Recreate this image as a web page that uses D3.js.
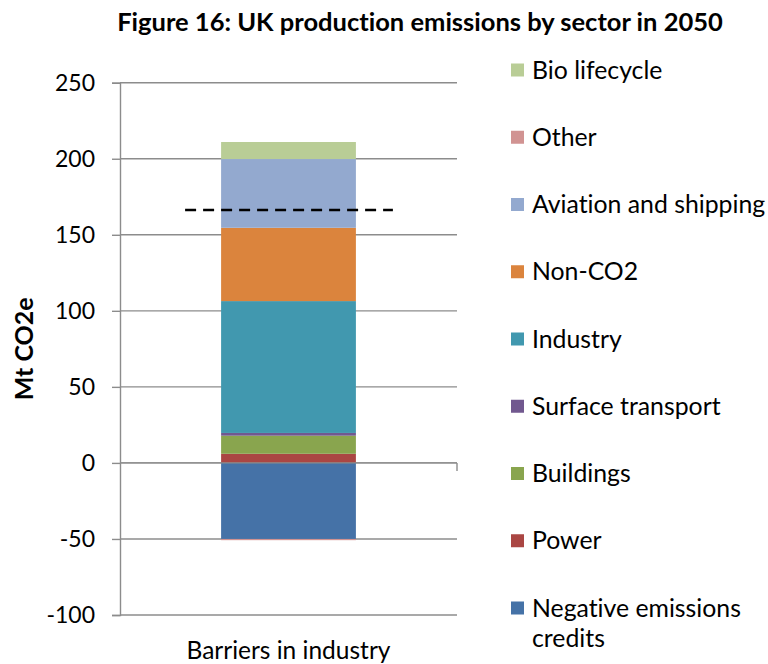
<!DOCTYPE html>
<html>
<head>
<meta charset="utf-8">
<script src="https://cdn.jsdelivr.net/npm/d3@7"></script>
<style>
  html, body { margin: 0; padding: 0; background: #fff; }
  svg { display: block; }
  text { font-family: Lato, "Open Sans", sans-serif; fill: #000; font-variant-ligatures: none; }
</style>
</head>
<body>
<svg id="chart" width="768" height="664"></svg>
<script>
// ---- data ----
const categories = ["Barriers in industry"];
const seriesNames = ["Negative emissions credits", "Power", "Buildings", "Surface transport",
  "Industry", "Non-CO2", "Aviation and shipping", "Other", "Bio lifecycle"];
const seriesValues = [-50, 6, 11.9, 1.8, 86.7, 48.2, 45.2, -0.8, 11.2];
const seriesColors = ["#4572A7", "#AA4643", "#89A54E", "#71588F", "#4198AF", "#DB843D", "#93A9CF", "#D19392", "#B9CD96"];
const yTicks = [-100, -50, 0, 50, 100, 150, 200, 250];
const targetLine = 166.3;
const titleText = "Figure 16: UK production emissions by sector in 2050";
const yLabel = "Mt CO2e";

// ---- layout ----
const svg = d3.select("#chart");
const plot = { left: 120, right: 457, top: 82.7, bottom: 615 };

const y = d3.scaleLinear().domain([-100, 250]).range([plot.bottom, plot.top]);
const x = d3.scaleBand().domain(categories).range([plot.left, plot.right]).paddingInner(0.6).paddingOuter(0.3);

// build table
const row = { category: categories[0] };
seriesNames.forEach((n, i) => row[n] = seriesValues[i]);
const stack = d3.stack().keys(seriesNames).offset(d3.stackOffsetDiverging);
const stacked = stack([row]);

// gridlines
svg.append("g").selectAll("line").data(yTicks).join("line")
  .attr("x1", plot.left).attr("x2", plot.right)
  .attr("y1", d => y(d)).attr("y2", d => y(d))
  .attr("stroke", "#8c8c8c").attr("stroke-width", 1.4);

// bars
svg.append("g").selectAll("g").data(stacked).join("g")
  .attr("fill", (d, i) => seriesColors[i])
  .selectAll("rect").data(d => d).join("rect")
  .attr("x", d => x(d.data.category))
  .attr("width", x.bandwidth())
  .attr("y", d => y(Math.max(d[0], d[1])))
  .attr("height", d => Math.abs(y(d[0]) - y(d[1])));

// y axis
const yAxis = d3.axisLeft(y).tickValues(yTicks).tickSize(8).tickPadding(17).tickFormat(d => String(d));
const gy = svg.append("g").attr("transform", `translate(${plot.left},0)`).call(yAxis);
gy.select(".domain").attr("stroke", "#8c8c8c").attr("stroke-width", 1.4);
gy.selectAll(".tick line").attr("stroke", "#8c8c8c").attr("stroke-width", 1.4);
gy.selectAll(".tick text").style("font-family", "Lato, sans-serif").style("font-size", "23px").attr("fill", "#000");

// x axis (category) at zero
const xAxis = d3.axisBottom(x).tickSize(0).tickFormat("");
const gx = svg.append("g").attr("transform", `translate(0,${y(0)})`).call(xAxis);
gx.select(".domain").attr("stroke", "#8c8c8c").attr("stroke-width", 1.4).attr("d", `M${plot.left},0H${plot.right}`);
gx.append("line").attr("x1", plot.right).attr("x2", plot.right).attr("y1", 0).attr("y2", 8)
  .attr("stroke", "#8c8c8c").attr("stroke-width", 1.4);

// category label
svg.append("text").attr("x", x(categories[0]) + x.bandwidth() / 2).attr("y", 659)
  .attr("text-anchor", "middle").style("font-size", "24.5px").text(categories[0]);

// dashed target line
svg.append("line")
  .attr("x1", x(categories[0]) - 36).attr("x2", x(categories[0]) + x.bandwidth() + 37)
  .attr("y1", y(targetLine)).attr("y2", y(targetLine))
  .attr("stroke", "#000").attr("stroke-width", 2.5).attr("stroke-dasharray", "11,7");

// title
svg.append("text").attr("x", 420).attr("y", 31).attr("text-anchor", "middle")
  .style("font-size", "25.5px").style("font-weight", "bold").text(titleText);

// y label
svg.append("text").attr("transform", `translate(33,${(plot.top + plot.bottom) / 2}) rotate(-90)`)
  .attr("text-anchor", "middle").style("font-size", "25px").style("font-weight", "bold").text(yLabel);

// legend (reverse order)
const legendItems = seriesNames.map((n, i) => ({ name: n, color: seriesColors[i] })).reverse();
const lg = svg.append("g");
const rowY = d3.scaleLinear().domain([0, legendItems.length - 1]).range([70, 608]);
const items = lg.selectAll("g").data(legendItems).join("g")
  .attr("transform", (d, i) => `translate(511,${rowY(i)})`);
items.append("rect").attr("x", 0).attr("y", -6.5).attr("width", 13).attr("height", 13).attr("fill", d => d.color);
items.append("text").attr("x", 21).attr("y", 8.5).style("font-size", "24.8px")
  .each(function (d) {
    const t = d3.select(this);
    if (d.name === "Negative emissions credits") {
      t.append("tspan").attr("x", 21).attr("y", 8.5).text("Negative emissions");
      t.append("tspan").attr("x", 21).attr("y", 38.5).text("credits");
    } else {
      t.text(d.name);
    }
  });
</script>
</body>
</html>
